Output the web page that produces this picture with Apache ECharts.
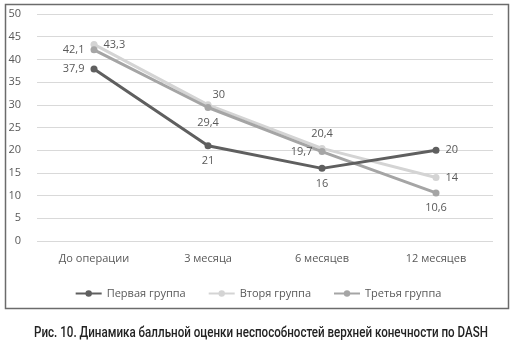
<!DOCTYPE html>
<html>
<head>
    <meta charset="utf-8">
    <title>DASH</title>
    <script src="https://cdn.jsdelivr.net/npm/echarts@6/dist/echarts.min.js"></script>
    <style>
        body { margin: 0; background: #fff; }
    </style>
</head>
<body>
    <div id="main" style="width: 516px; height: 354px;"></div>

    <script type="text/javascript">
        var categories = ['До операции', '3 месяца', '6 месяцев', '12 месяцев'];
        var names = ['Первая группа', 'Вторя группа', 'Третья группа'];
        var group1 = [37.9, 21, 16, 20];
        var group2 = [43.3, 30, 20.4, 14];
        var group3 = [42.1, 29.4, 19.7, 10.6];
        var yTicks = { min: 0, max: 50, interval: 5 };
        var caption = 'Рис. 10. Динамика балльной оценки неспособностей верхней конечности по DASH';

        // label positions per point, as in the picture
        var pos1 = ['left', 'bottom', 'bottom', 'right'];
        var pos2 = ['right', 'insideBottomLeft', 'top', 'right'];
        var pos3 = ['left', 'bottom', 'left', 'bottom'];

        function fmt(v) {
            return String(v).replace('.', ',');
        }

        function makeData(vals, pos) {
            return vals.map(function (v, i) {
                var lbl = { position: pos[i] };
                if (pos[i] === 'insideBottomLeft') lbl = { position: [8, -12] };
                return { value: v, label: lbl };
            });
        }

        var labelStyle = {
            show: true,
            color: '#595959',
            fontSize: 11,
            fontFamily: 'Open Sans',
            distance: 6,
            formatter: function (p) { return fmt(p.value); }
        };

        var colors = ['#5f5f5f', '#d4d4d4', '#a5a5a5'];

        var chart = echarts.init(document.getElementById('main'));
        chart.setOption({
            animation: false,
            color: colors,
            grid: { left: 37, right: 23, top: 14, bottom: 113, containLabel: false },
            legend: {
                bottom: 50,
                left: 'center',
                itemWidth: 26,
                itemHeight: 8,
                itemGap: 22,
                textStyle: { color: '#595959', fontSize: 11, fontFamily: 'Open Sans' },
                data: names
            },
            xAxis: {
                type: 'category',
                data: categories,
                axisLine: { show: false },
                axisTick: { show: false },
                axisLabel: { color: '#595959', fontSize: 11, fontFamily: 'Open Sans', margin: 12 }
            },
            yAxis: {
                type: 'value',
                min: yTicks.min,
                max: yTicks.max,
                interval: yTicks.interval,
                axisLabel: { color: '#595959', fontSize: 11, fontFamily: 'Open Sans', margin: 16 },
                splitLine: { lineStyle: { color: '#d9d9d9', width: 1 } }
            },
            series: [
                {
                    name: names[0], type: 'line', data: makeData(group1, pos1),
                    symbol: 'circle', symbolSize: 7, lineStyle: { width: 3 },
                    label: labelStyle, z: 4
                },
                {
                    name: names[1], type: 'line', data: makeData(group2, pos2),
                    symbol: 'circle', symbolSize: 7, lineStyle: { width: 3 },
                    label: labelStyle, z: 2
                },
                {
                    name: names[2], type: 'line', data: makeData(group3, pos3),
                    symbol: 'circle', symbolSize: 7, lineStyle: { width: 3 },
                    label: labelStyle, z: 3
                }
            ],
            graphic: [
                {
                    type: 'rect',
                    shape: { x: 5.5, y: 4.5, width: 503, height: 304 },
                    style: { fill: null, stroke: '#6b6b6b', lineWidth: 1.5 },
                    silent: true
                },
                {
                    // caption is set in a condensed face, squeeze it horizontally
                    type: 'text',
                    x: 261,
                    y: 333,
                    scaleX: 0.8,
                    style: {
                        text: caption,
                        fill: '#222',
                        fontSize: 14.5,
                        fontWeight: 500,
                        fontFamily: 'Roboto',
                        textAlign: 'center',
                        textVerticalAlign: 'middle'
                    }
                }
            ]
        });
    </script>
</body>
</html>
